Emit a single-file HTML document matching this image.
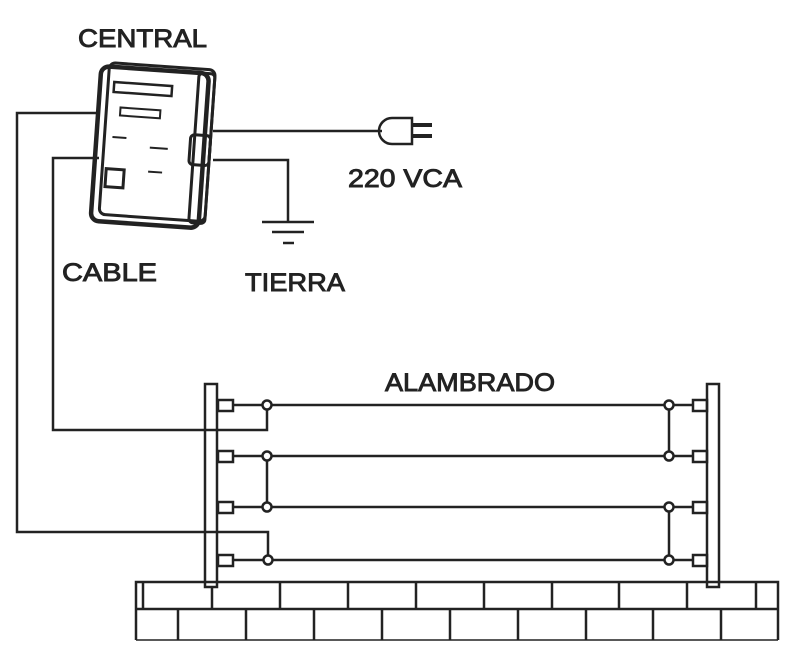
<!DOCTYPE html>
<html><head><meta charset="utf-8"><style>html,body{margin:0;padding:0;background:#fff}svg{display:block}</style></head>
<body>
<svg width="800" height="654" viewBox="0 0 800 654" xmlns="http://www.w3.org/2000/svg" font-family="Liberation Sans, sans-serif" fill="#222">
<rect width="800" height="654" fill="#fff"/>
<g stroke="#222" stroke-width="2.5" fill="none">
<polyline points="97,113 17,113 17,532 268,532 268,560"/>
<polyline points="99,158 53,158 53,430 267,430 267,405"/>
<line x1="213" y1="131" x2="382" y2="131"/>
<polyline points="213,160 288,160 288,222"/>
<line x1="262" y1="222" x2="314" y2="222"/>
<line x1="272" y1="232" x2="304" y2="232"/>
<line x1="283" y1="243" x2="294" y2="243"/>
<path d="M392,118 L412,118 L412,144 L392,144 A13,13 0 0 1 392,118 Z" stroke-width="2.5"/>
<line x1="412" y1="125" x2="432" y2="125" stroke-width="4"/>
<line x1="412" y1="136" x2="432" y2="136" stroke-width="4"/>
<g transform="rotate(4 155 145)">
<rect x="96" y="70" width="108" height="155" rx="8" stroke-width="4.5"/>
<rect x="104" y="66" width="106" height="152" rx="6" stroke-width="3"/>
<rect x="194" y="70" width="16" height="150" rx="4" stroke-width="3"/>
<rect x="110" y="85" width="58" height="10" stroke-width="2.5"/>
<rect x="118" y="110" width="40" height="8" stroke-width="2"/>
<line x1="112" y1="140" x2="126" y2="140" stroke-width="2"/>
<line x1="150" y1="148" x2="168" y2="148" stroke-width="2"/>
<line x1="150" y1="172" x2="164" y2="172" stroke-width="2"/>
<rect x="108" y="172" width="18" height="18" stroke-width="3"/>
<rect x="190" y="132" width="20" height="30" rx="4" stroke-width="3"/>
</g>
<rect x="205" y="384" width="12" height="203"/>
<rect x="707" y="384" width="12" height="203"/>
<rect x="218" y="400" width="15" height="11"/>
<rect x="218" y="451" width="15" height="11"/>
<rect x="218" y="502" width="15" height="11"/>
<rect x="218" y="555" width="15" height="11"/>
<rect x="693" y="400" width="14" height="11"/>
<rect x="693" y="451" width="14" height="11"/>
<rect x="693" y="502" width="14" height="11"/>
<rect x="693" y="555" width="14" height="11"/>
<line x1="233" y1="405" x2="693" y2="405"/>
<line x1="233" y1="456" x2="693" y2="456"/>
<line x1="233" y1="507" x2="693" y2="507"/>
<line x1="233" y1="560" x2="693" y2="560"/>
<line x1="267" y1="456" x2="267" y2="507"/>
<line x1="669" y1="405" x2="669" y2="456"/>
<line x1="669" y1="507" x2="669" y2="560"/>
<g fill="#fff">
<circle cx="267" cy="405" r="4.5"/><circle cx="267" cy="456" r="4.5"/><circle cx="267" cy="507" r="4.5"/><circle cx="268" cy="560" r="4.5"/>
<circle cx="669" cy="405" r="4.5"/><circle cx="669" cy="456" r="4.5"/><circle cx="669" cy="507" r="4.5"/><circle cx="669" cy="560" r="4.5"/>
</g>
<polyline points="136,640 136,582 778,582 778,640"/>
<line x1="136" y1="609" x2="778" y2="609"/>
<line x1="136" y1="640" x2="778" y2="640" stroke-width="1.5"/>
<g stroke-width="2.5">
<line x1="143" y1="582" x2="143" y2="609"/>
<line x1="212" y1="587" x2="212" y2="609"/>
<line x1="280" y1="582" x2="280" y2="609"/>
<line x1="348" y1="582" x2="348" y2="609"/>
<line x1="416" y1="582" x2="416" y2="609"/>
<line x1="484" y1="582" x2="484" y2="609"/>
<line x1="552" y1="582" x2="552" y2="609"/>
<line x1="619" y1="582" x2="619" y2="609"/>
<line x1="687" y1="582" x2="687" y2="609"/>
<line x1="756" y1="582" x2="756" y2="609"/>
<line x1="178" y1="609" x2="178" y2="640"/>
<line x1="246" y1="609" x2="246" y2="640"/>
<line x1="314" y1="609" x2="314" y2="640"/>
<line x1="382" y1="609" x2="382" y2="640"/>
<line x1="450" y1="609" x2="450" y2="640"/>
<line x1="518" y1="609" x2="518" y2="640"/>
<line x1="586" y1="609" x2="586" y2="640"/>
<line x1="653" y1="609" x2="653" y2="640"/>
<line x1="721" y1="609" x2="721" y2="640"/>
</g>
</g>
<g font-size="25" stroke="#222" stroke-width="0.9">
<text x="78" y="47" textLength="129" lengthAdjust="spacingAndGlyphs">CENTRAL</text>
<text x="348" y="187" textLength="114" lengthAdjust="spacingAndGlyphs">220 VCA</text>
<text x="62" y="281" textLength="95" lengthAdjust="spacingAndGlyphs">CABLE</text>
<text x="245" y="291" textLength="100" lengthAdjust="spacingAndGlyphs">TIERRA</text>
<text x="385" y="391" textLength="170" lengthAdjust="spacingAndGlyphs">ALAMBRADO</text>
</g>
</svg>
</body></html>
